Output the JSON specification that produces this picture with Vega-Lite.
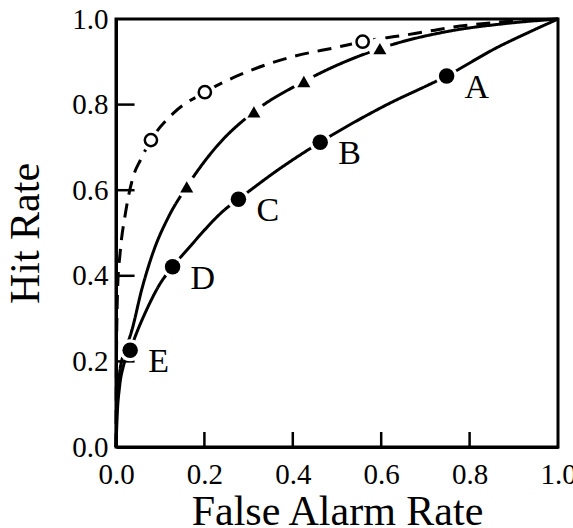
{
  "$schema": "https://vega.github.io/schema/vega-lite/v6.json",
  "autosize": "none",
  "width": 442,
  "height": 428,
  "padding": {"left": 116, "top": 19, "right": 15, "bottom": 81},
  "background": "white",
  "config": {
    "view": {"stroke": "black", "strokeWidth": 3},
    "font": "Liberation Serif",
    "axis": {
      "grid": false,
      "domainColor": "black",
      "domainWidth": 3,
      "labelFont": "Liberation Serif",
      "labelFontSize": 29,
      "labelColor": "black",
      "labelFlush": false,
      "labelOverlap": false,
      "titleFont": "Liberation Serif",
      "titleFontSize": 42,
      "titleFontWeight": "normal",
      "titleColor": "black"
    }
  },
  "resolve": {"axis": {"x": "independent", "y": "independent"}},
  "datasets": {
    "curves": [
      {"s": "c1", "o": 0, "x": 0.0, "y": 0.0},
      {"s": "c1", "o": 1, "x": 0.003, "y": 0.08},
      {"s": "c1", "o": 2, "x": 0.008, "y": 0.14},
      {"s": "c1", "o": 3, "x": 0.017, "y": 0.19},
      {"s": "c1", "o": 4, "x": 0.032, "y": 0.226},
      {"s": "c1", "o": 5, "x": 0.043, "y": 0.257},
      {"s": "c1", "o": 6, "x": 0.069, "y": 0.32},
      {"s": "c1", "o": 7, "x": 0.1, "y": 0.382},
      {"s": "c1", "o": 8, "x": 0.128, "y": 0.421},
      {"s": "c1", "o": 9, "x": 0.167, "y": 0.468},
      {"s": "c1", "o": 10, "x": 0.25, "y": 0.558},
      {"s": "c1", "o": 11, "x": 0.277, "y": 0.579},
      {"s": "c1", "o": 12, "x": 0.37, "y": 0.65},
      {"s": "c1", "o": 13, "x": 0.462, "y": 0.712},
      {"s": "c1", "o": 14, "x": 0.6, "y": 0.793},
      {"s": "c1", "o": 15, "x": 0.748, "y": 0.867},
      {"s": "c1", "o": 16, "x": 0.869, "y": 0.937},
      {"s": "c1", "o": 17, "x": 0.93, "y": 0.967},
      {"s": "c1", "o": 18, "x": 1.0, "y": 1.0},
      {"s": "c2", "o": 0, "x": 0.0, "y": 0.0},
      {"s": "c2", "o": 1, "x": 0.002, "y": 0.1},
      {"s": "c2", "o": 2, "x": 0.009, "y": 0.18},
      {"s": "c2", "o": 3, "x": 0.024, "y": 0.234},
      {"s": "c2", "o": 4, "x": 0.036, "y": 0.273},
      {"s": "c2", "o": 5, "x": 0.058, "y": 0.367},
      {"s": "c2", "o": 6, "x": 0.084, "y": 0.455},
      {"s": "c2", "o": 7, "x": 0.12, "y": 0.54},
      {"s": "c2", "o": 8, "x": 0.16, "y": 0.608},
      {"s": "c2", "o": 9, "x": 0.23, "y": 0.705},
      {"s": "c2", "o": 10, "x": 0.312, "y": 0.783},
      {"s": "c2", "o": 11, "x": 0.425, "y": 0.854},
      {"s": "c2", "o": 12, "x": 0.597, "y": 0.931},
      {"s": "c2", "o": 13, "x": 0.756, "y": 0.972},
      {"s": "c2", "o": 14, "x": 0.869, "y": 0.988},
      {"s": "c2", "o": 15, "x": 1.0, "y": 1.0},
      {"s": "c3", "o": 0, "x": 0.0, "y": 0.0},
      {"s": "c3", "o": 1, "x": 0.001, "y": 0.2},
      {"s": "c3", "o": 2, "x": 0.004, "y": 0.38},
      {"s": "c3", "o": 3, "x": 0.009, "y": 0.45},
      {"s": "c3", "o": 4, "x": 0.022, "y": 0.55},
      {"s": "c3", "o": 5, "x": 0.039, "y": 0.632},
      {"s": "c3", "o": 6, "x": 0.055, "y": 0.67},
      {"s": "c3", "o": 7, "x": 0.079, "y": 0.717},
      {"s": "c3", "o": 8, "x": 0.13, "y": 0.78},
      {"s": "c3", "o": 9, "x": 0.201, "y": 0.829},
      {"s": "c3", "o": 10, "x": 0.3, "y": 0.878},
      {"s": "c3", "o": 11, "x": 0.4, "y": 0.912},
      {"s": "c3", "o": 12, "x": 0.5, "y": 0.934},
      {"s": "c3", "o": 13, "x": 0.558, "y": 0.947},
      {"s": "c3", "o": 14, "x": 0.676, "y": 0.966},
      {"s": "c3", "o": 15, "x": 0.756, "y": 0.98},
      {"s": "c3", "o": 16, "x": 0.87, "y": 0.993},
      {"s": "c3", "o": 17, "x": 1.0, "y": 1.0}
    ],
    "markers": [
      {"s": "c1", "x": 0.748, "y": 0.867, "label": "A"},
      {"s": "c1", "x": 0.462, "y": 0.712, "label": "B"},
      {"s": "c1", "x": 0.277, "y": 0.579, "label": "C"},
      {"s": "c1", "x": 0.128, "y": 0.421, "label": "D"},
      {"s": "c1", "x": 0.032, "y": 0.226, "label": "E"},
      {"s": "c2", "x": 0.16, "y": 0.608, "label": ""},
      {"s": "c2", "x": 0.312, "y": 0.783, "label": ""},
      {"s": "c2", "x": 0.425, "y": 0.854, "label": ""},
      {"s": "c2", "x": 0.597, "y": 0.931, "label": ""},
      {"s": "c3", "x": 0.079, "y": 0.717, "label": ""},
      {"s": "c3", "x": 0.201, "y": 0.829, "label": ""},
      {"s": "c3", "x": 0.558, "y": 0.947, "label": ""}
    ],
    "tickrows": [
      {"t": "x2", "x": 0.2, "y": 0.0}, {"t": "x2", "x": 0.2, "y": 0.035},
      {"t": "x4", "x": 0.4, "y": 0.0}, {"t": "x4", "x": 0.4, "y": 0.035},
      {"t": "x6", "x": 0.6, "y": 0.0}, {"t": "x6", "x": 0.6, "y": 0.035},
      {"t": "x8", "x": 0.8, "y": 0.0}, {"t": "x8", "x": 0.8, "y": 0.035},
      {"t": "y2", "x": 0.0, "y": 0.2}, {"t": "y2", "x": 0.042, "y": 0.2},
      {"t": "y4", "x": 0.0, "y": 0.4}, {"t": "y4", "x": 0.042, "y": 0.4},
      {"t": "y6", "x": 0.0, "y": 0.6}, {"t": "y6", "x": 0.042, "y": 0.6},
      {"t": "y8", "x": 0.0, "y": 0.8}, {"t": "y8", "x": 0.042, "y": 0.8}
    ]
  },
  "layer": [
    {
      "data": {"name": "curves"},
      "mark": {"type": "line", "color": "black", "strokeWidth": 3, "interpolate": "monotone"},
      "encoding": {
        "x": {
          "field": "x", "type": "quantitative",
          "scale": {"domain": [0, 1], "nice": false, "zero": false},
          "axis": {
            "title": "False Alarm Rate",
            "values": [0, 0.2, 0.4, 0.6, 0.8, 1.0],
            "format": ".1f",
            "ticks": false,
            "labelPadding": 13,
            "titlePadding": 2
          }
        },
        "y": {
          "field": "y", "type": "quantitative",
          "scale": {"domain": [0, 1], "nice": false, "zero": false},
          "axis": {
            "title": "Hit Rate",
            "values": [0, 0.2, 0.4, 0.6, 0.8, 1.0],
            "format": ".1f",
            "ticks": false,
            "labelPadding": 8,
            "titlePadding": 24
          }
        },
        "detail": {"field": "s"},
        "order": {"field": "o", "type": "quantitative"},
        "strokeDash": {
          "field": "s", "type": "nominal",
          "scale": {"domain": ["c1", "c2", "c3"], "range": [[1, 0], [1, 0], [14, 9]]},
          "legend": null
        }
      }
    },
    {
      "data": {"name": "tickrows"},
      "mark": {"type": "line", "color": "black", "strokeWidth": 2.5, "strokeCap": "butt", "interpolate": "linear"},
      "encoding": {
        "x": {"field": "x", "type": "quantitative", "axis": null},
        "y": {"field": "y", "type": "quantitative", "axis": null},
        "detail": {"field": "t"}
      }
    },
    {
      "data": {"name": "markers"},
      "mark": {"type": "point", "shape": "circle", "filled": true, "color": "white", "opacity": 1, "size": 480},
      "encoding": {
        "x": {"field": "x", "type": "quantitative", "axis": null},
        "y": {"field": "y", "type": "quantitative", "axis": null}
      }
    },
    {
      "data": {"name": "markers"},
      "transform": [{"filter": "datum.s == 'c1'"}],
      "mark": {"type": "point", "shape": "circle", "filled": true, "color": "black", "opacity": 1, "size": 240},
      "encoding": {
        "x": {"field": "x", "type": "quantitative", "axis": null},
        "y": {"field": "y", "type": "quantitative", "axis": null}
      }
    },
    {
      "data": {"name": "markers"},
      "transform": [{"filter": "datum.s == 'c2'"}],
      "mark": {"type": "point", "shape": "triangle-up", "filled": true, "color": "black", "opacity": 1, "size": 170},
      "encoding": {
        "x": {"field": "x", "type": "quantitative", "axis": null},
        "y": {"field": "y", "type": "quantitative", "axis": null}
      }
    },
    {
      "data": {"name": "markers"},
      "transform": [{"filter": "datum.s == 'c3'"}],
      "mark": {"type": "point", "shape": "circle", "fill": "white", "stroke": "black", "strokeWidth": 2.5, "opacity": 1, "size": 150},
      "encoding": {
        "x": {"field": "x", "type": "quantitative", "axis": null},
        "y": {"field": "y", "type": "quantitative", "axis": null}
      }
    },
    {
      "data": {"name": "markers"},
      "transform": [{"filter": "datum.s == 'c1'"}],
      "mark": {"type": "text", "align": "left", "baseline": "middle", "dx": 18, "dy": 12, "font": "Liberation Serif", "fontSize": 34, "color": "black"},
      "encoding": {
        "x": {"field": "x", "type": "quantitative", "axis": null},
        "y": {"field": "y", "type": "quantitative", "axis": null},
        "text": {"field": "label"}
      }
    }
  ]
}
